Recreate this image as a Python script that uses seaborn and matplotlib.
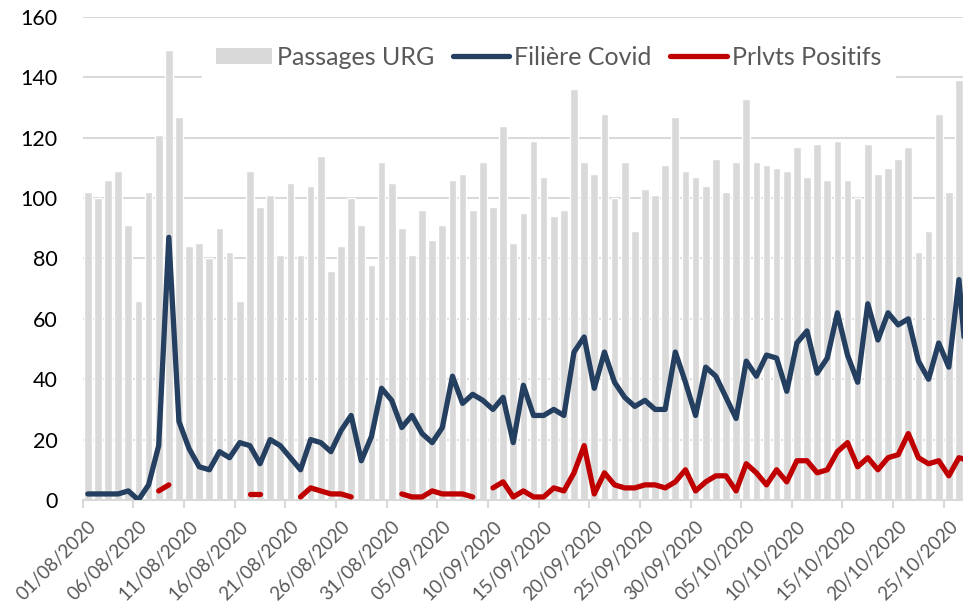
import numpy as np
import pandas as pd
import matplotlib
matplotlib.use("Agg")
import matplotlib.pyplot as plt
import seaborn as sns
from matplotlib.patches import Patch
from matplotlib.lines import Line2D

sns.set_theme(style="white")
plt.rcParams["font.family"] = ["Lato", "DejaVu Sans"]

# daily data from 01/08/2020 (last day is cut off by the frame, as in the source)
dates = pd.date_range("2020-08-01", periods=88, freq="D")
day_labels = dates.strftime("%d/%m/%Y")

passages_urg = [102, 100, 106, 109, 91, 66, 102, 121, 149, 127,
                84, 85, 80, 90, 82, 66, 109, 97, 101, 81,
                105, 81, 104, 114, 76, 84, 100, 91, 78, 112,
                105, 90, 81, 96, 86, 91, 106, 108, 96, 112,
                97, 124, 85, 95, 119, 107, 94, 96, 136, 112,
                108, 128, 100, 112, 89, 103, 101, 111, 127, 109,
                107, 104, 113, 102, 112, 133, 112, 111, 110, 109,
                117, 107, 118, 106, 119, 106, 100, 118, 108, 110,
                113, 117, 82, 89, 128, 102, 139, np.nan]

filiere_covid = [2, 2, 2, 2, 3, 0, 5, 18, 87, 26,
                 17, 11, 10, 16, 14, 19, 18, 12, 20, 18,
                 14, 10, 20, 19, 16, 23, 28, 13, 21, 37,
                 33, 24, 28, 22, 19, 24, 41, 32, 35, 33,
                 30, 34, 19, 38, 28, 28, 30, 28, 49, 54,
                 37, 49, 39, 34, 31, 33, 30, 30, 49, 39,
                 28, 44, 41, 34, 27, 46, 41, 48, 47, 36,
                 52, 56, 42, 47, 62, 48, 39, 65, 53, 62,
                 58, 60, 46, 40, 52, 44, 73, 35]

nan = np.nan
prlvts_positifs = [nan, nan, nan, nan, nan, nan, nan, 3, 5, nan,
                   nan, nan, nan, nan, nan, nan, 2, 2, nan, nan,
                   nan, 1, 4, 3, 2, 2, 1, nan, nan, nan,
                   nan, 2, 1, 1, 3, 2, 2, 2, 1, nan,
                   4, 6, 1, 3, 1, 1, 4, 3, 9, 18,
                   2, 9, 5, 4, 4, 5, 5, 4, 6, 10,
                   3, 6, 8, 8, 3, 12, 9, 5, 10, 6,
                   13, 13, 9, 10, 16, 19, 11, 14, 10, 14,
                   15, 22, 14, 12, 13, 8, 14, 13]

df = pd.DataFrame({"day": np.arange(len(dates)), "label": day_labels,
                   "urg": passages_urg, "covid": filiere_covid,
                   "pos": prlvts_positifs})

c_bar = "#d9d9d9"
c_blue = "#243f60"
c_red = "#c00000"

fig = plt.figure(figsize=(9.63, 6.05), dpi=100)
ax = fig.add_axes([0.0859, 0.1736, 0.9141, 0.7983])

bars = df[df["urg"].notna()]
sns.barplot(data=bars, x="day", y="urg", color=c_bar, saturation=1,
            width=0.76, ax=ax, zorder=2)

sns.lineplot(data=df, x="day", y="covid", color=c_blue, linewidth=3.8,
             ax=ax, zorder=3, solid_capstyle="round", solid_joinstyle="round")

# red series has gaps -> draw each run of days separately
seg = df["pos"].isna().cumsum()
for _, part in df[df["pos"].notna()].groupby(seg[df["pos"].notna()]):
    sns.lineplot(data=part, x="day", y="pos", color=c_red, linewidth=3.8,
                 ax=ax, zorder=3, solid_capstyle="round",
                 solid_joinstyle="round")

ax.set_xlim(-0.5, 86.4)
ax.set_ylim(0, 160)
ax.set_yticks(range(0, 161, 20))
ax.yaxis.grid(True, color="#d9d9d9", linewidth=1.5, zorder=0)
ax.set_axisbelow(True)
ax.tick_params(axis="y", length=0, labelsize=15.5, labelcolor="black", pad=18)

major = list(range(0, 86, 5))
ax.set_xticks(major)
ax.set_xticklabels([day_labels[i] for i in major], rotation=45, ha="right",
                   va="top", rotation_mode="anchor", fontsize=13.5,
                   color="#595959")
ax.set_xticks([i - 0.5 for i in major], minor=True)
ax.tick_params(axis="x", which="major", length=0, pad=13)
ax.tick_params(axis="x", which="minor", length=6, width=1.5,
               color="#d9d9d9", direction="out", bottom=True)
ax.set_xlabel("")
ax.set_ylabel("")
for s in ["top", "right", "left"]:
    ax.spines[s].set_visible(False)
ax.spines["bottom"].set_color("#d9d9d9")
ax.spines["bottom"].set_linewidth(1.5)

handles = [Patch(facecolor=c_bar, edgecolor="none"),
           Line2D([], [], color=c_blue, linewidth=3.8, solid_capstyle="round"),
           Line2D([], [], color=c_red, linewidth=3.8, solid_capstyle="round")]
leg = ax.legend(handles, ["Passages URG", "Filière Covid", "Prlvts Positifs"],
                loc="upper center", bbox_to_anchor=(0.529, 0.995), ncol=3,
                fontsize=18, frameon=True, fancybox=False, framealpha=1,
                facecolor="white", edgecolor="white", handlelength=2.25,
                handleheight=0.65, handletextpad=0.2, columnspacing=0.75,
                borderpad=0.55)
leg.set_zorder(5)
for t in leg.get_texts():
    t.set_color("#595959")

fig.savefig("out.png", dpi=100)
